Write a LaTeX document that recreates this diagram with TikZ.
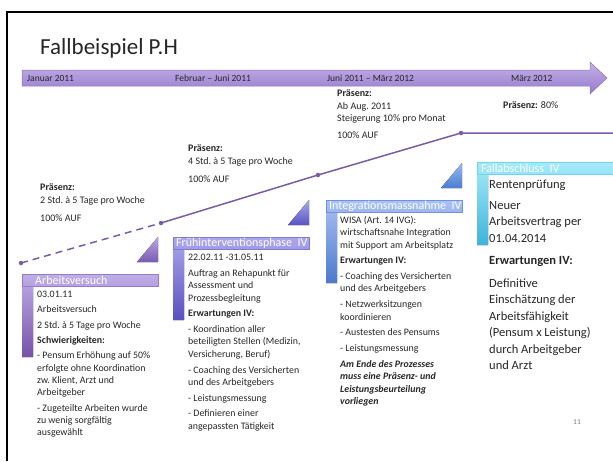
\documentclass[tikz,border=0pt]{standalone}
\usepackage{fontspec}
\setmainfont{Carlito}
\definecolor{lila}{HTML}{7B5BA6}
\definecolor{txt}{HTML}{262626}
\begin{document}
\begin{tikzpicture}[x=1pt,y=-1pt,
  hdr/.style={anchor=west, inner sep=0pt, text=white, font=\fontsize{12}{13}\selectfont},
  note/.style={anchor=north west, inner sep=0pt, align=left, font=\fontsize{10}{12.3}\selectfont, text=txt},
  btxt/.style={anchor=north west, inner sep=0pt, align=left, font=\fontsize{9.9}{12.3}\selectfont, text=txt},
  bigtxt/.style={anchor=north west, inner sep=0pt, align=left, font=\fontsize{12.5}{16.5}\selectfont, text=txt},
  tl/.style={anchor=west, inner sep=0pt, font=\fontsize{9.5}{10}\selectfont, text=txt},
  dot/.style={circle, fill=lila, inner sep=0pt, minimum size=4.5pt},
  trend/.style={draw=lila, line width=1.5pt}]
\useasboundingbox (0,0) rectangle (613,461);
% frame
\draw[line width=2.5pt] (613,12) -- (7,12) -- (7,461);
% title
\node[anchor=base west, inner sep=0pt, font=\fontsize{23}{27}\selectfont, text=txt] (title) at (40,54) {Fallbeispiel P.H};
% timeline arrow
\draw[draw=lila!85, line width=0.5pt, top color={rgb,255:red,196;green,178;blue,233}, bottom color={rgb,255:red,150;green,122;blue,204}]
  (22,70) -- (590,70) -- (590,62) -- (607,78) -- (590,94) -- (590,86) -- (22,86) -- cycle;
\node[tl] (t1) at (27,78) {Januar 2011};
\node[tl] (t2) at (175,78) {Februar – Juni 2011};
\node[tl] (t3) at (327,78) {Juni 2011 – März 2012};
\node[tl] (t4) at (511,78) {März 2012};
% trend line
\coordinate (p1) at (21,263);
\coordinate (p2) at (161,223);
\coordinate (p3) at (318,175);
\coordinate (p4) at (461,133);
\coordinate (p5) at (613,133);
\draw[trend, dash pattern=on 7pt off 5pt] (p1) -- (p2);
\draw[trend] (p2) -- (p3) -- (p4) -- (p5);
\foreach \p in {p1,p2,p3,p4} \node[dot] at (\p) {};
% annotations
\node[note] (a1) at (40,184) {\textbf{Präsenz:}\\ 2 Std.\ à 5 Tage pro Woche\\[5.5pt] 100\% AUF};
\node[note] (a2) at (188,145) {\textbf{Präsenz:}\\ 4 Std.\ à 5 Tage pro Woche\\[5.5pt] 100\% AUF};
\node[note] (a3) at (337,90) {\textbf{Präsenz:}\\ Ab Aug.\ 2011\\ Steigerung 10\% pro Monat\\[4.5pt] 100\% AUF};
\node[note] (a4) at (503,101) {\textbf{Präsenz:} 80\%};
% triangles
\fill[top color={rgb,255:red,186;green,166;blue,228}, bottom color={rgb,255:red,122;green,90;blue,178}] (137,262) -- (158,262) -- (158,237) -- cycle;
\fill[top color={rgb,255:red,168;green,170;blue,236}, bottom color={rgb,255:red,86;green,84;blue,192}] (288,225) -- (309,225) -- (309,200) -- cycle;
\fill[top color={rgb,255:red,150;green,186;blue,238}, bottom color={rgb,255:red,74;green,126;blue,210}] (441,188) -- (462,188) -- (462,163) -- cycle;
% box 1
\fill[top color={rgb,255:red,192;green,174;blue,232}, bottom color={rgb,255:red,118;green,82;blue,172}] (22,274) -- (158,274) -- (158,286) -- (33,286) -- (33,357) -- (22,357) -- cycle;
\draw[draw={rgb,255:red,150;green,122;blue,204}, line width=0.5pt] (22,274) rectangle (158,286);
\node[hdr] (h1) at (35,280.5) {Arbeitsversuch};
% box 2
\fill[top color={rgb,255:red,172;green,168;blue,238}, bottom color={rgb,255:red,90;green,80;blue,190}] (173,237) -- (309,237) -- (309,249) -- (184,249) -- (184,320) -- (173,320) -- cycle;
\draw[draw={rgb,255:red,130;green,120;blue,214}, line width=0.5pt] (173,237) rectangle (309,249);
\node[hdr] (h2) at (176,243.5) {Frühinterventionsphase\ \ IV};
% box 3
\fill[top color={rgb,255:red,170;green,194;blue,245}, bottom color={rgb,255:red,76;green,120;blue,206}] (326,200) -- (462,200) -- (462,212) -- (337,212) -- (337,283) -- (326,283) -- cycle;
\draw[draw={rgb,255:red,110;green,146;blue,226}, line width=0.5pt] (326,200) rectangle (462,212);
\node[hdr] (h3) at (329,206.5) {Integrationsmassnahme\ \ IV};
% box 4
\fill[top color={rgb,255:red,166;green,235;blue,250}, bottom color={rgb,255:red,61;green,179;blue,219}] (477,162) -- (613,162) -- (613,174) -- (488,174) -- (488,245) -- (477,245) -- cycle;
\draw[draw={rgb,255:red,110;green,214;blue,240}, line width=0.5pt] (477,162) rectangle (613,174);
\node[hdr] (h4) at (481,168.5) {Fallabschluss\ \ IV};
% box texts
\node[btxt] (b1) at (37,291) {03.01.11\\[3pt] Arbeitsversuch\\[3pt] 2 Std.\ à 5 Tage pro Woche\\[3pt] \textbf{Schwierigkeiten:}\\[3pt] - Pensum Erhöhung auf 50\%\\ erfolgte ohne Koordination\\ zw.\ Klient, Arzt und\\ Arbeitgeber\\[3pt] - Zugeteilte Arbeiten wurde\\ zu wenig sorgfältig\\ ausgewählt};
\node[btxt] (b2) at (188,254) {22.02.11 -31.05.11\\[3.5pt] Auftrag an Rehapunkt für\\ Assessment und\\ Prozessbegleitung\\[3.5pt] \textbf{Erwartungen IV:}\\[3.5pt] - Koordination aller\\ beteiligten Stellen (Medizin,\\ Versicherung, Beruf)\\[3.5pt] - Coaching des Versicherten\\ und des Arbeitgebers\\[3.5pt] - Leistungsmessung\\[3.5pt] - Definieren einer\\ angepassten Tätigkeit};
\node[btxt] (b3) at (340,216) {WISA (Art.\ 14 IVG):\\ wirtschaftsnahe Integration\\ mit Support am Arbeitsplatz\\[3.5pt] \textbf{Erwartungen IV:}\\[3.5pt] - Coaching des Versicherten\\ und des Arbeitgebers\\[3.5pt] - Netzwerksitzungen\\ koordinieren\\[3.5pt] - Austesten des Pensums\\[3.5pt] - Leistungsmessung\\[3.5pt] \textbf{\textit{Am Ende des Prozesses}}\\ \textbf{\textit{muss eine Präsenz- und}}\\ \textbf{\textit{Leistungsbeurteilung}}\\ \textbf{\textit{vorliegen}}};
\node[bigtxt] (b4) at (489,180) {Rentenprüfung\\[4pt] Neuer\\ Arbeitsvertrag per\\ 01.04.2014\\[6pt] \textbf{Erwartungen IV:}\\[6pt] Definitive\\ Einschätzung der\\ Arbeitsfähigkeit\\ (Pensum x Leistung)\\ durch Arbeitgeber\\ und Arzt};
% page number
\node[anchor=base west, inner sep=0pt, font=\fontsize{7.5}{8}\selectfont, text=black!50] (pg) at (573,424) {11};
\end{tikzpicture}
\end{document}
